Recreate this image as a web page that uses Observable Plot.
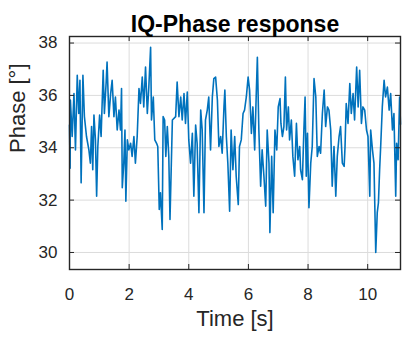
<!DOCTYPE html>
<html>
<head>
<meta charset="utf-8">
<script src="https://cdn.jsdelivr.net/npm/d3@7"></script>
<script src="https://cdn.jsdelivr.net/npm/@observablehq/plot@0.6"></script>
<style>
  html, body { margin: 0; padding: 0; background: #fff; }
  #chart { width: 412px; height: 348px; }
</style>
</head>
<body>
<div id="chart"></div>
<script>
const time = [
  0.00, 0.02, 0.03, 0.09, 0.15, 0.20, 0.26, 0.31, 0.35, 0.39, 0.45, 0.50, 0.57, 0.65, 0.70, 0.74, 0.78, 0.82, 0.87, 0.91,
  0.95, 1.01, 1.06, 1.13, 1.17, 1.23, 1.26, 1.32, 1.38, 1.43, 1.49, 1.54, 1.60, 1.66, 1.71, 1.745, 1.77, 1.82, 1.86, 1.89,
  1.94, 1.99, 2.05, 2.10, 2.16, 2.21, 2.27, 2.33, 2.38, 2.44, 2.49, 2.55, 2.61, 2.66, 2.72, 2.75, 2.81, 2.86, 2.92, 2.96,
  3.01, 3.05, 3.11, 3.14, 3.19, 3.23, 3.28, 3.33, 3.37, 3.45, 3.56, 3.61, 3.67, 3.73, 3.78, 3.84, 3.89, 3.95, 4.00, 4.06,
  4.12, 4.17, 4.23, 4.28, 4.34, 4.40, 4.45, 4.51, 4.56, 4.62, 4.67, 4.73, 4.79, 4.84, 4.90, 4.96, 5.01, 5.07, 5.12, 5.18,
  5.21, 5.26, 5.31, 5.37, 5.42, 5.48, 5.54, 5.59, 5.66, 5.70, 5.76, 5.82, 5.87, 5.93, 5.99, 6.04, 6.10, 6.15, 6.21, 6.26,
  6.30, 6.35, 6.41, 6.46, 6.52, 6.58, 6.63, 6.69, 6.72, 6.78, 6.83, 6.89, 6.95, 7.00, 7.06, 7.09, 7.14, 7.19, 7.24, 7.28,
  7.34, 7.38, 7.44, 7.49, 7.55, 7.61, 7.66, 7.72, 7.75, 7.81, 7.86, 7.90, 7.94, 7.98, 8.03, 8.09, 8.14, 8.20, 8.26, 8.31,
  8.37, 8.42, 8.48, 8.54, 8.59, 8.65, 8.70, 8.76, 8.81, 8.87, 8.93, 8.98, 9.04, 9.09, 9.15, 9.21, 9.24, 9.28, 9.34, 9.40,
  9.45, 9.51, 9.56, 9.63, 9.68, 9.73, 9.79, 9.84, 9.90, 9.96, 10.01, 10.07, 10.10, 10.16, 10.21, 10.27, 10.32, 10.36, 10.40, 10.44,
  10.49, 10.55, 10.60, 10.66, 10.72, 10.77, 10.83, 10.88, 10.94, 10.97, 11.02, 11.07, 11.10
];
const phase = [
  34.87, 33.22, 35.82, 34.43, 36.07, 33.92, 36.77, 35.31, 36.58, 32.66, 36.77, 35.19, 34.43, 33.92, 33.41, 34.81, 33.16, 35.25, 34.30, 32.15,
  34.05, 35.25, 34.43, 36.96, 35.31, 36.51, 37.27, 35.19, 36.07, 36.58, 35.19, 35.94, 34.68, 35.44, 34.68, 36.26, 32.47, 33.41, 34.68, 31.96,
  34.30, 33.92, 34.17, 33.67, 34.43, 33.41, 34.43, 36.26, 35.69, 36.70, 35.56, 37.08, 35.31, 36.32, 37.84, 35.06, 35.94, 34.30, 34.17, 34.05,
  31.64, 32.28, 30.88, 35.19, 35.06, 33.67, 34.81, 33.67, 31.26, 35.06, 35.19, 36.51, 35.19, 35.94, 35.06, 36.07, 34.93, 36.13, 34.30, 33.41,
  34.55, 32.15, 34.87, 34.17, 31.52, 35.44, 34.68, 31.52, 35.06, 35.44, 35.94, 33.92, 35.94, 36.64, 36.70, 35.82, 34.05, 34.43, 33.79, 35.56,
  36.20, 34.43, 33.41, 31.58, 34.68, 33.16, 34.43, 32.91, 31.83, 34.05, 34.30, 35.31, 35.44, 35.94, 36.70, 36.20, 34.55, 35.56, 33.92, 35.94,
  37.46, 34.68, 32.53, 33.92, 32.91, 31.77, 34.68, 33.41, 30.76, 33.67, 31.52, 34.68, 33.92, 35.56, 35.88, 34.93, 34.43, 34.81, 36.70, 34.68,
  35.56, 34.30, 35.06, 33.67, 32.91, 34.93, 33.54, 34.05, 33.16, 32.78, 34.68, 35.94, 32.91, 34.55, 31.71, 33.41, 34.05, 36.64, 35.94, 33.67,
  34.05, 33.79, 35.31, 36.20, 34.81, 35.56, 35.44, 34.68, 32.53, 34.05, 32.15, 33.67, 34.43, 34.81, 33.41, 33.29, 34.05, 35.69, 34.93, 36.45,
  35.31, 36.07, 35.06, 37.08, 35.56, 36.96, 34.93, 35.56, 35.44, 34.68, 34.43, 32.15, 34.68, 33.92, 33.41, 30.00, 31.52, 31.90, 33.16, 34.17,
  35.56, 36.58, 35.94, 36.32, 35.44, 36.07, 34.68, 35.31, 32.15, 34.17, 33.54, 35.94, 34.90
];
const xTicks = [0, 2, 4, 6, 8, 10];
const yTicks = [30, 32, 34, 36, 38];
const titleText = ["IQ-Phase response"];
const xLabel = ["Time [s]"];
const yLabel = ["Phase [°]"];

const data = time.map((t, i) => ({t, p: phase[i]}));
const ink = "#262626";

const chart = Plot.plot({
  width: 412,
  height: 348,
  marginLeft: 69,
  marginRight: 12,
  marginTop: 36,
  marginBottom: 79,
  style: {fontFamily: "'Liberation Sans', Arial, sans-serif", background: "#fff", color: ink},
  x: {domain: [0, 11.1]},
  y: {domain: [29.35, 38.25]},
  marks: [
    Plot.gridX(xTicks, {stroke: "#dcdcdc", strokeOpacity: 1}),
    Plot.gridY(yTicks, {stroke: "#dcdcdc", strokeOpacity: 1}),
    Plot.line(data, {x: "t", y: "p", stroke: "#0072BD", strokeWidth: 1.6, strokeLinejoin: "round"}),
    Plot.tickX(xTicks, {x: d => d, insetTop: 228, stroke: ink}),
    Plot.tickX(xTicks, {x: d => d, insetBottom: 228, stroke: ink}),
    Plot.tickY(yTicks, {y: d => d, insetRight: 326, stroke: ink}),
    Plot.tickY(yTicks, {y: d => d, insetLeft: 326, stroke: ink}),
    Plot.frame({stroke: ink, strokeWidth: 1.4}),
    Plot.axisX(xTicks, {tickSize: 0, tickPadding: 18, fontSize: 17, label: null, fill: ink}),
    Plot.axisY(yTicks, {tickSize: 0, tickPadding: 12, fontSize: 17, label: null, fill: ink}),
    Plot.text(titleText, {frameAnchor: "top", dy: -21, fontSize: 23, fontWeight: "bold", fill: "#000"}),
    Plot.text(xLabel, {frameAnchor: "bottom", dy: 56, fontSize: 22, fill: ink}),
    Plot.text(yLabel, {frameAnchor: "left", rotate: -90, dx: -52, fontSize: 22, fill: ink})
  ]
});
document.getElementById("chart").appendChild(chart);
</script>
</body>
</html>
